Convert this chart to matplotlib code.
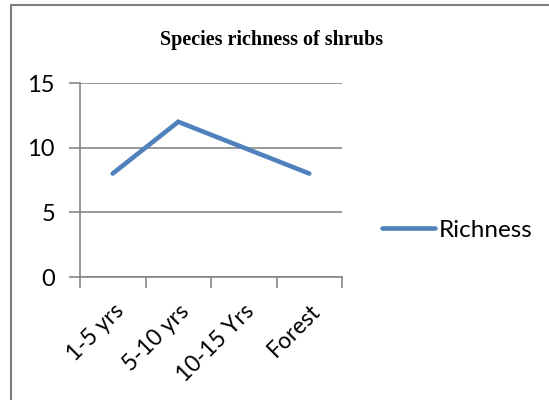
"""Species richness of shrubs line chart."""

import matplotlib
matplotlib.use("Agg")
import matplotlib.pyplot as plt
from matplotlib.lines import Line2D

categories = ["1-5 yrs", "5-10 yrs", "10-15 Yrs", "Forest"]
richness = [8, 12, 10, 8]
y_ticks = [0, 5, 10, 15]

GRID = "#868686"
BLUE = "#4F81BD"
W, H = 549, 400

fig = plt.figure(figsize=(W / 100, H / 100), dpi=100)
ax = fig.add_axes([80 / W, 1 - 277 / H, (342 - 80) / W, (277 - 83) / H])

x = list(range(len(categories)))
ax.plot(x, richness, color=BLUE, linewidth=3.3, solid_capstyle="round",
        solid_joinstyle="miter", label="Richness", zorder=3)

ax.set_xlim(-0.5, len(categories) - 0.5)
ax.set_ylim(0, 15)
ax.set_yticks(y_ticks)
ax.yaxis.grid(True, color=GRID, linewidth=1.2)
ax.set_axisbelow(True)

for side in ["top", "right"]:
    ax.spines[side].set_visible(False)
for side in ["left", "bottom"]:
    ax.spines[side].set_color(GRID)
    ax.spines[side].set_linewidth(1.2)

# category ticks sit between categories, labels at centres
ax.set_xticks([i - 0.5 for i in range(len(categories) + 1)], minor=False)
ax.set_xticklabels([])
ax.set_xticks(x, minor=True)
ax.set_xticklabels(categories, minor=True, rotation=45, ha="right", va="top",
                   rotation_mode="anchor", fontsize=16.5, family="Lato")
ax.tick_params(axis="x", which="minor", length=0, pad=17)
ax.tick_params(axis="x", which="major", length=8, width=1.2, color=GRID)
ax.tick_params(axis="y", length=8, width=1.2, color=GRID, labelsize=17, pad=10)
for lab in ax.get_yticklabels():
    lab.set_family("Lato")

fig.text(272 / W, 1 - 40 / H, "Species richness of shrubs", ha="center", va="center",
         fontsize=14.5, fontweight="bold", family="Liberation Serif")

leg = fig.legend(handles=[Line2D([0], [0], color=BLUE, linewidth=3.3, solid_capstyle="round")],
                 labels=["Richness"], loc="center left", bbox_to_anchor=(360 / W, 1 - 230 / H),
                 frameon=False, handlelength=2.2, handletextpad=0.15,
                 prop={"family": "Lato", "size": 17.5})

# chart frame
fig.add_artist(Line2D([11 / W, 11 / W], [0, 1 - 5 / H], color="#7f7f7f", linewidth=1.5))
fig.add_artist(Line2D([11 / W, 1], [1 - 5 / H, 1 - 5 / H], color="#7f7f7f", linewidth=1.5))

fig.savefig("out.png", dpi=100)
